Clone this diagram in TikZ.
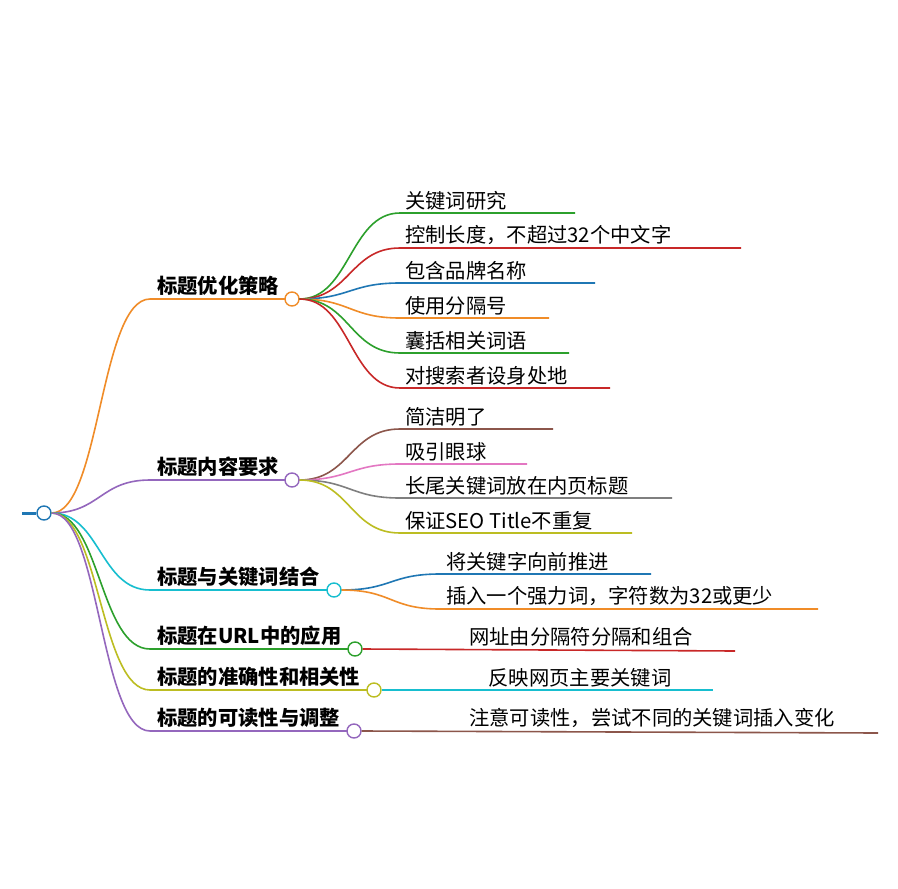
\documentclass[tikz,border=0pt]{standalone}
\usepackage{fontspec}
\usetikzlibrary{calc}
\setmainfont{Noto Sans CJK SC}
\definecolor{cgreen}{RGB}{44,160,44}
\definecolor{cred}{RGB}{200,40,40}
\definecolor{cblue}{RGB}{31,119,180}
\definecolor{corange}{RGB}{240,140,40}
\definecolor{cpurple}{RGB}{148,103,189}
\definecolor{cbrown}{RGB}{140,86,75}
\definecolor{cpink}{RGB}{227,119,194}
\definecolor{cgray}{RGB}{127,127,127}
\definecolor{colive}{RGB}{188,189,34}
\definecolor{ccyan}{RGB}{23,190,207}
\begin{document}
\begin{tikzpicture}[x=1pt,y=-1pt,
  ln/.style={line width=1.6pt},
  dot/.style={circle,draw,fill=white,line width=1.4pt,minimum size=14pt,inner sep=0pt},
  br/.style={anchor=south west,inner sep=1pt,font=\fontsize{20.3}{20}\selectfont\bfseries},
  lf/.style={anchor=south west,inner sep=1pt,font=\fontsize{20.3}{20}\selectfont},
  lfc/.style={anchor=south,inner sep=1pt,font=\fontsize{20.3}{20}\selectfont}]
\useasboundingbox[fill=white] (0,0) rectangle (898,889);
\draw[cblue,line width=3pt] (22,513) -- (36,513);
\node[dot,draw=cblue] (root) at (44,513) {};
% branches
\newcommand{\branch}[6]{%
  \coordinate (#1s) at (150,#3);
  \draw[ln,#5] (root.east) .. controls (100,513) and (100,#3) .. (#1s) -- (#2-7,#3);
  \node[dot,draw=#5] (#1) at (#2,#3) {};
  \node[br] (#1t) at (156,#3-2) {#6};}
\branch{b1}{292}{299}{}{corange}{标题优化策略}
\branch{b2}{292}{480}{}{cpurple}{标题内容要求}
\branch{b3}{334}{590}{}{ccyan}{标题与关键词结合}
\branch{b4}{355}{649}{}{cgreen}{标题在URL中的应用}
\branch{b5}{374}{690}{}{colive}{标题的准确性和相关性}
\branch{b6}{354}{731}{}{cpurple}{标题的可读性与调整}
% curved leaves
\newcommand{\leaf}[6]{%
  \coordinate (#1a) at (#3,#4);
  \coordinate (#1e) at (#5,#4);
  \draw[ln,#6] (#2.east) .. controls ($(#2.east)+(50,0)$) and ($(#1a)+(-50,0)$) .. (#1a) -- (#1e);}
\leaf{l1}{b1}{400}{213}{575}{cgreen}\node[lf] (l1t) at (404,211) {关键词研究};
\leaf{l2}{b1}{400}{248}{741}{cred}\node[lf] (l2t) at (404,246) {控制长度，不超过32个中文字};
\leaf{l3}{b1}{400}{283}{595}{cblue}\node[lf] (l3t) at (404,281) {包含品牌名称};
\leaf{l4}{b1}{400}{318}{549}{corange}\node[lf] (l4t) at (404,316) {使用分隔号};
\leaf{l5}{b1}{400}{353}{569}{cgreen}\node[lf] (l5t) at (404,351) {囊括相关词语};
\leaf{l6}{b1}{400}{388}{610}{cred}\node[lf] (l6t) at (404,386) {对搜索者设身处地};
\leaf{m1}{b2}{400}{429}{553}{cbrown}\node[lf] (m1t) at (404,427) {简洁明了};
\leaf{m2}{b2}{400}{464}{527}{cpink}\node[lf] (m2t) at (404,462) {吸引眼球};
\leaf{m3}{b2}{400}{498}{672}{cgray}\node[lf] (m3t) at (404,496) {长尾关键词放在内页标题};
\leaf{m4}{b2}{400}{533}{632}{colive}\node[lf] (m4t) at (404,531) {保证SEO Title不重复};
\leaf{n1}{b3}{440}{574}{651}{cblue}\node[lf] (n1t) at (445,572) {将关键字向前推进};
\leaf{n2}{b3}{440}{609}{818}{corange}\node[lf] (n2t) at (445,607) {插入一个强力词，字符数为32或更少};
% straight leaves
\coordinate (p1e) at (735,651);
\draw[ln,cred] (b4.east) -- (p1e);
\node[lfc] (p1t) at (581,647) {网址由分隔符分隔和组合};
\coordinate (q1e) at (713,690);
\draw[ln,ccyan] (b5.east) -- (q1e);
\node[lfc] (q1t) at (580,688) {反映网页主要关键词};
\coordinate (r1e) at (878,733);
\draw[ln,cbrown] (b6.east) -- (r1e);
\node[lfc] (r1t) at (652,729) {注意可读性，尝试不同的关键词插入变化};
\end{tikzpicture}
\end{document}
